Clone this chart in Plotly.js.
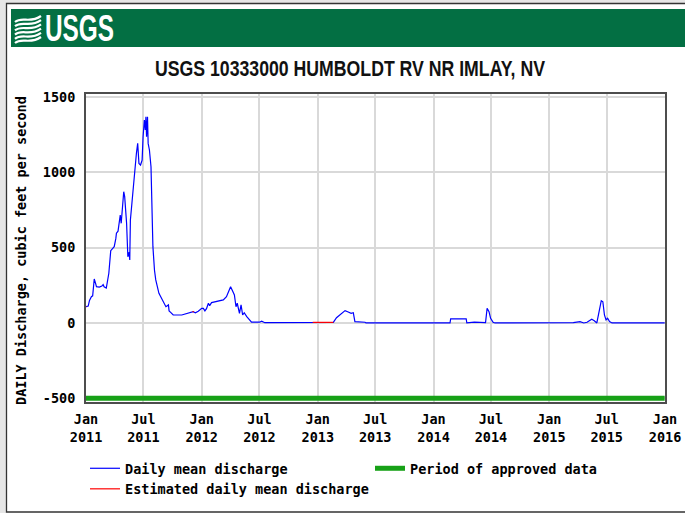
<!DOCTYPE html>
<html><head><meta charset="utf-8">
<script src="https://cdn.plot.ly/plotly-3.0.1.min.js"></script>
<style>html,body{margin:0;padding:0;background:#fff;}#chart{width:685px;height:513px;}</style>
</head><body><div id="chart"></div>
<script>
// ---- data ----
const dailyDates = [
'2011-01-01','2011-01-08','2011-01-12','2011-01-18','2011-01-22','2011-01-27','2011-01-31','2011-02-03','2011-02-12','2011-02-20','2011-02-24','2011-02-27',
'2011-03-06','2011-03-10','2011-03-14','2011-03-20','2011-03-24','2011-03-31','2011-04-05','2011-04-07','2011-04-12','2011-04-14','2011-04-17','2011-04-19',
'2011-04-22','2011-04-26','2011-04-30','2011-05-03','2011-05-06','2011-05-09','2011-05-13','2011-05-17','2011-05-19','2011-05-21','2011-05-26','2011-05-29',
'2011-06-03','2011-06-09','2011-06-13','2011-06-17','2011-06-22','2011-06-27','2011-06-30','2011-07-04','2011-07-07','2011-07-09','2011-07-11','2011-07-14',
'2011-07-16','2011-07-20','2011-07-25','2011-07-28','2011-07-31','2011-08-05','2011-08-09','2011-08-19','2011-09-01','2011-09-10','2011-09-18','2011-09-20',
'2011-09-25','2011-10-03','2011-10-30','2011-11-15','2011-11-25','2011-12-05','2011-12-12','2011-12-21','2012-01-01','2012-01-06','2012-01-11','2012-01-16',
'2012-01-22','2012-01-26','2012-02-01','2012-02-12','2012-02-20','2012-03-01','2012-03-09','2012-03-19','2012-03-28','2012-04-01','2012-04-07','2012-04-13',
'2012-04-18','2012-04-22','2012-04-29','2012-05-04','2012-05-09','2012-05-14','2012-05-22','2012-06-01','2012-06-06','2012-07-01','2012-07-08','2012-07-18',
'2012-12-02','2012-12-16','2013-02-19','2013-03-01','2013-03-10','2013-03-17','2013-03-28','2013-04-07','2013-04-16','2013-04-23','2013-04-28','2013-05-30',
'2013-06-02','2014-02-22','2014-02-24','2014-04-14','2014-04-16','2014-05-10','2014-05-27','2014-05-28','2014-06-14','2014-06-19','2014-06-25','2014-06-30',
'2014-07-08','2014-07-14','2015-03-18','2015-04-08','2015-04-18','2015-04-20','2015-04-30','2015-05-15','2015-05-23','2015-05-31','2015-06-06','2015-06-14',
'2015-06-19','2015-06-24','2015-06-29','2015-07-04','2015-07-10','2015-07-18','2015-12-31'];
const dailyCfs = [
108,112,150,175,180,292,265,241,238,245,255,240,
232,280,330,480,490,507,560,596,610,640,680,717,
662,800,872,839,750,662,440,470,418,684,800,883,
1016,1127,1193,1060,1049,1082,1237,1348,1282,1370,1237,1370,
1193,1149,1038,640,507,350,286,197,141,108,120,80,
70,53,53,64,71,75,68,78,97,97,80,95,
131,115,135,141,145,150,153,175,219,241,214,186,
108,131,64,120,53,68,42,15,5,5,12,2,
3,4,4,35,50,58,82,73,64,68,9,5,
0,0,27,27,0,5,5,0,2,97,75,31,
5,0,2,9,5,0,5,25,15,0,64,148,
141,53,20,31,9,0,0];

const estDates = ['2011-01-01','2011-01-02',null,'2011-12-03','2011-12-07',null,'2012-12-16','2013-02-19'];
const estCfs   = [108,108,null,75,75,null,4,4];

const approvedDates = ['2011-01-01','2015-12-31'];
const approvedLevel = [-500,-500];

const xTickVals = ['2011-01-01','2011-07-01','2012-01-01','2012-07-01','2013-01-01','2013-07-01','2014-01-01','2014-07-01','2015-01-01','2015-07-01','2016-01-01'];
const xTickText = ['Jan<br>2011','Jul<br>2011','Jan<br>2012','Jul<br>2012','Jan<br>2013','Jul<br>2013','Jan<br>2014','Jul<br>2014','Jan<br>2015','Jul<br>2015','Jan<br>2016'];
const yTickVals = [-500,0,500,1000,1500];
const yTickText = ['-500','0','500','1000','1500'];

// ---- layout helpers ----
const W=685,H=513,L=86,R=20,T=94,B=111;
const pw=W-L-R, ph=H-T-B;
const px = x => (x-L)/pw;
const py = y => (H-B-y)/ph;
const mono = '"DejaVu Sans Mono", "Liberation Mono", monospace';
const sans = '"Liberation Sans Narrow", "Arial Narrow", "Liberation Sans", Arial, sans-serif';
const GREEN_HDR = '#036f43';

const traces = [
  {x: dailyDates, y: dailyCfs, type:'scatter', mode:'lines', name:'Daily mean discharge',
   line:{color:'#0000ff', width:1.2}, hoverinfo:'skip'},
  {x: approvedDates, y: approvedLevel, type:'scatter', mode:'lines', name:'Period of approved data',
   line:{color:'#17a117', width:5}, hoverinfo:'skip'},
  {x: estDates, y: estCfs, type:'scatter', mode:'lines', name:'Estimated daily mean discharge',
   line:{color:'#ff0000', width:1.2}, connectgaps:false, hoverinfo:'skip'}
];

const shapes = [
  {type:'rect', xref:'paper', yref:'paper', x0:px(0), x1:px(6), y0:py(513), y1:py(0), fillcolor:'#e6e6e6', line:{width:0}, layer:'below'},
  {type:'rect', xref:'paper', yref:'paper', x0:px(0), x1:px(685), y0:py(3), y1:py(0), fillcolor:'#e6e6e6', line:{width:0}, layer:'below'},
  {type:'rect', xref:'paper', yref:'paper', x0:px(6.5), x1:px(690), y0:py(512), y1:py(3.5), line:{color:'#333', width:1.3}, layer:'below'},
  {type:'rect', xref:'paper', yref:'paper', x0:px(11), x1:px(685), y0:py(47), y1:py(9), fillcolor:GREEN_HDR, line:{width:0}, layer:'below'}
];
for (let i=0;i<6;i++){
  const y = 19 + i*4.2;
  shapes.push({type:'path', xref:'paper', yref:'paper', layer:'below',
    path:`M${px(15)},${py(y+3)} C${px(22)},${py(y-3)} ${px(30)},${py(y+5)} ${px(41)},${py(y-3)}`,
    line:{color:'#ffffff', width:2.2}});
}

const layout = {
  width:W, height:H,
  margin:{l:L, r:R, t:T, b:B, autoexpand:false},
  paper_bgcolor:'#ffffff', plot_bgcolor:'#ffffff',
  showlegend:true,
  title:{text:'USGS 10333000 HUMBOLDT RV NR IMLAY, NV', xref:'container', yref:'container',
    x:350/W, y:1-68/H, xanchor:'center', yanchor:'middle',
    font:{family:sans, size:22, weight:'bold', color:'#111'}},
  xaxis:{type:'date', range:['2011-01-01','2016-01-01'], tickvals:xTickVals, ticktext:xTickText,
    showgrid:true, gridcolor:'#d9d9d9', gridwidth:2, zeroline:false,
    showline:true, mirror:true, linecolor:'#4d4d4d', linewidth:2, ticks:'', ticklabelstandoff:4,
    tickfont:{family:mono, size:13.5, weight:'bold', color:'#000'}, fixedrange:true},
  yaxis:{range:[-525,1521], tickvals:yTickVals, ticktext:yTickText,
    showgrid:true, gridcolor:'#d9d9d9', gridwidth:2, zeroline:false,
    showline:true, mirror:true, linecolor:'#4d4d4d', linewidth:2, ticks:'', ticklabelstandoff:6,
    tickfont:{family:mono, size:13.5, weight:'bold', color:'#000'}, fixedrange:true},
  legend:{orientation:'h', x:px(85), y:py(453), xanchor:'left', yanchor:'top',
    entrywidth:240, entrywidthmode:'pixels', bgcolor:'rgba(0,0,0,0)', tracegroupgap:0,
    font:{family:mono, size:13.5, weight:'bold', color:'#000'}},
  shapes:shapes,
  annotations:[
    {text:'USGS', xref:'paper', yref:'paper', x:px(79), y:py(28), xanchor:'center', yanchor:'middle', showarrow:false,
     font:{family:sans, size:37, weight:'bold', color:'#ffffff'}},
    {text:'DAILY Discharge, cubic feet per second', xref:'paper', yref:'paper', x:px(21), y:py(251),
     textangle:-90, showarrow:false, xanchor:'center', yanchor:'middle',
     font:{family:mono, size:13.5, weight:'bold', color:'#000'}}
  ]
};

Plotly.newPlot('chart', traces, layout, {displayModeBar:false, staticPlot:true}).then(gd => {
  // condense title and logo text horizontally to match the narrow face of the original
  const t = gd.querySelector('.g-gtitle text');
  if (t) { t.setAttribute('textLength', '390'); t.setAttribute('lengthAdjust', 'spacingAndGlyphs'); }
  const a = gd.querySelector('.annotation-text');
  if (a) { a.setAttribute('textLength', '69'); a.setAttribute('lengthAdjust', 'spacingAndGlyphs'); }
});
</script></body></html>
